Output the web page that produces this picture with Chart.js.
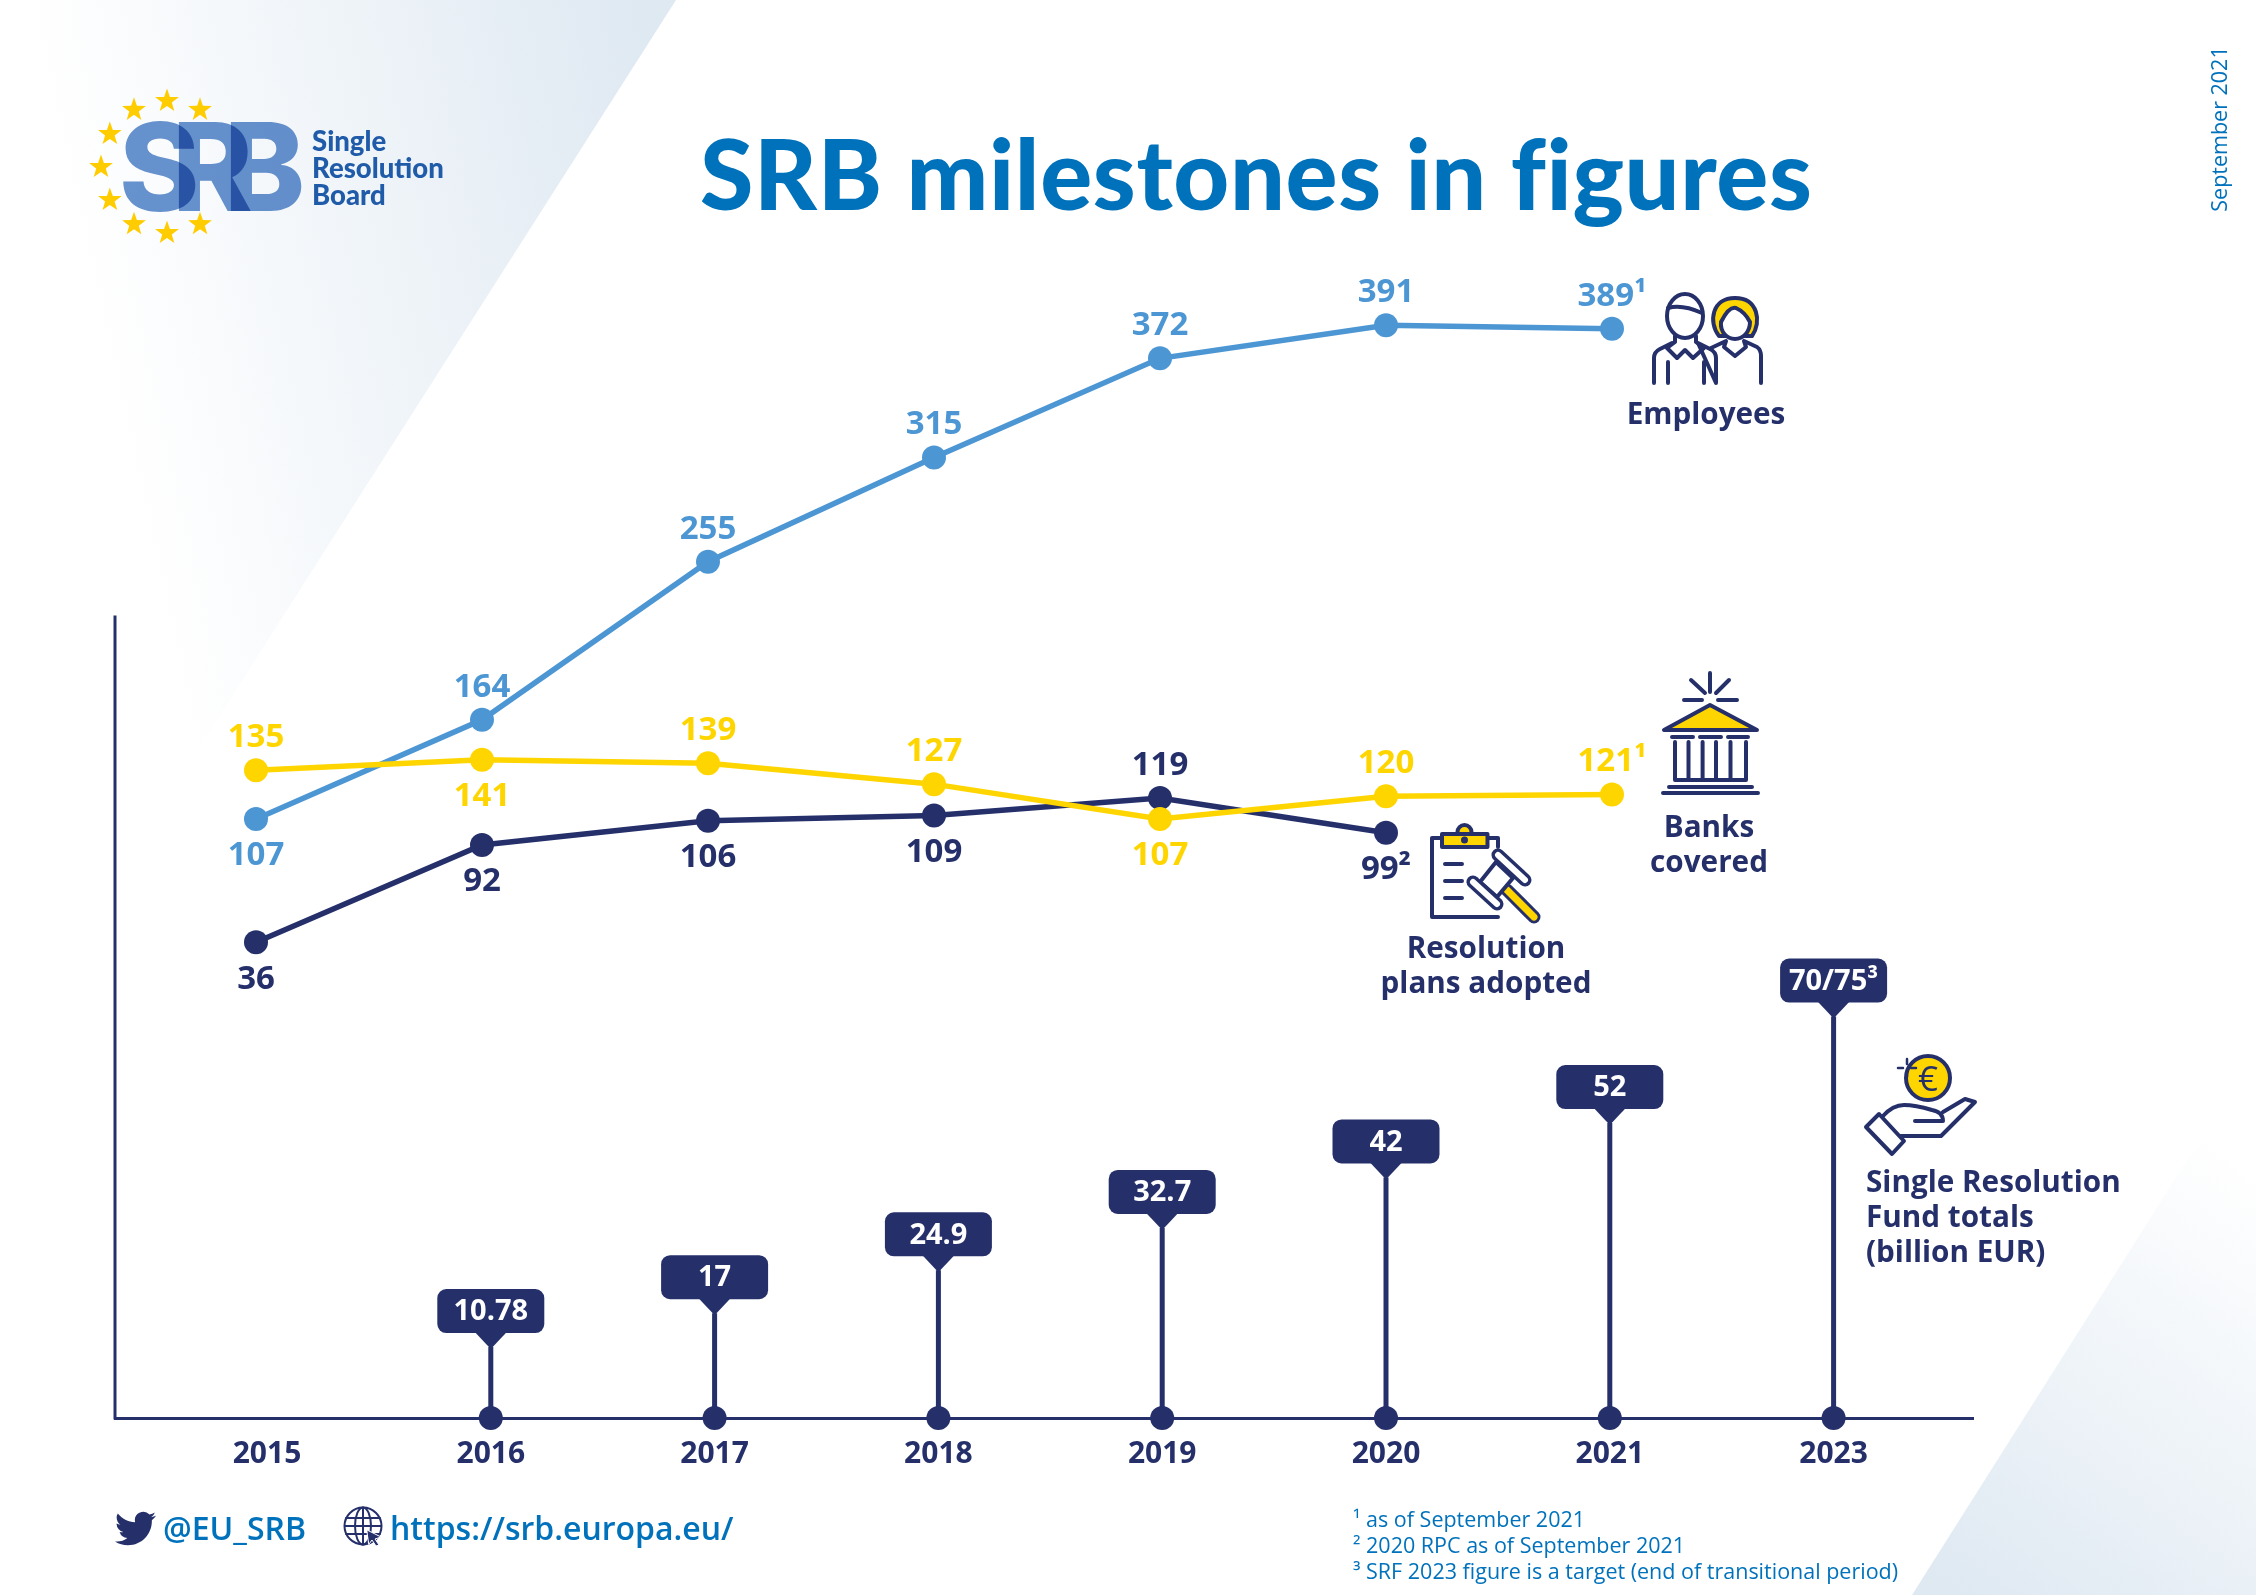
<!DOCTYPE html>
<html><head><meta charset="utf-8">
<style>
html,body{margin:0;padding:0;background:#fff;width:2256px;height:1595px;overflow:hidden}
#c{position:absolute;left:0;top:0;display:block}
.t{position:absolute;white-space:nowrap;font-family:"Open Sans",sans-serif;line-height:1}
.n{color:#25306B;font-weight:700;font-size:29.7px;line-height:35px}
.ctr{transform:translateX(-50%);text-align:center}
.f{color:#0072BC;font-size:21.5px;font-weight:400}
.l{color:#0072BC;font-size:32px;font-weight:600}
.srb{position:absolute;top:0;font-family:Inter,sans-serif;font-weight:800;font-size:122px;color:#6793CF;mix-blend-mode:multiply;line-height:1}
svg{position:absolute;left:0;top:0}
</style></head><body>
<canvas id="c" width="2256" height="1595"></canvas>
<div id="logo" style="position:absolute;left:0;top:0"></div>
<svg width="2256" height="1595" viewBox="0 0 2256 1595" fill="none" stroke="#25306B" stroke-width="4" stroke-linecap="round" stroke-linejoin="round">
 <g id="stars" stroke="none" fill="#FFCC00"></g>
 <!-- employees -->
 <path d="M1654,383V358Q1654,352 1660,349L1672,343M1698,343L1710,349Q1716,352 1716,358V383ZM1668,383V362M1704,383V362"/>
 <path d="M1675,336V342L1667,348L1677,358L1685,350L1693,358L1704,348L1696,342V336"/>
 <ellipse cx="1685" cy="316" rx="18" ry="22" fill="#fff"/>
 <path d="M1668,308Q1682,304 1702,313"/>
 <path d="M1719,336C1708,322 1712,298 1735,298C1758,298 1762,322 1752,336Z" fill="#FFD500"/>
 <path d="M1721,322Q1729,306 1736,308Q1745,312 1750,322C1750,332 1743,339 1735,339C1727,339 1720,332 1721,322Z" fill="#fff"/>
 <path d="M1711,348L1726,341L1724,347L1735,356L1746,347L1744,341L1757,347Q1761,350 1761,356V383"/>
 <!-- bank -->
 <path d="M1710,673V692M1691,680L1705,693M1729,680L1716,693M1684,700H1702M1718,700H1737"/>
 <path d="M1710,705L1664,730H1757Z" fill="#FFD500"/>
 <path d="M1672,737H1693M1700,737H1721M1728,737H1748M1675,742V780H1746V742M1688.5,742V780M1702.6,742V780M1716,742V780M1730.5,742V780M1669,787H1752M1663,793H1758"/>
 <!-- clipboard and gavel -->
 <path d="M1442,838H1432V917H1498M1488,838H1498V847M1445,864H1462M1445,881H1462M1445,898H1462"/>
 <circle cx="1464.5" cy="832" r="7" fill="#FFD500"/>
 <rect x="1442" y="834" width="45.5" height="13" fill="#FFD500"/>
 <circle cx="1464.5" cy="840" r="1.5" fill="#25306B"/>
 <path d="M1507,890L1534,917" stroke-width="13"/>
 <path d="M1507,890L1534,917" stroke="#FFD500" stroke-width="7"/>
 <path d="M1496,862L1480,882L1497,897L1513,878Z" fill="#fff"/>
 <path d="M1498,855L1525,880" stroke-width="13"/>
 <path d="M1498,855L1525,880" stroke="#fff" stroke-width="6"/>
 <path d="M1473,882L1497,904" stroke-width="13"/>
 <path d="M1473,882L1497,904" stroke="#fff" stroke-width="6"/>
 <!-- hand and coin -->
 <circle cx="1928" cy="1078" r="22" fill="#FFD500"/>
 <path d="M1907,1059V1064M1907,1072V1077M1898,1068H1903M1911,1068H1916" stroke-width="2.5"/>
 <path d="M1866,1127L1879,1114L1904,1141L1892,1154Z"/>
 <path d="M1883,1116Q1893,1105 1904,1105Q1915,1105 1932,1110Q1943,1112 1943,1121H1915M1943,1112L1965,1099L1975,1102L1941,1136H1901"/>
 <!-- twitter -->
 <path transform="translate(115,1508) scale(1.71)" fill="#25306B" stroke="none" d="M23.953 4.57a10 10 0 01-2.825.775 4.958 4.958 0 002.163-2.723c-.951.555-2.005.959-3.127 1.184a4.92 4.92 0 00-8.384 4.482C7.69 8.095 4.067 6.13 1.64 3.162a4.822 4.822 0 00-.666 2.475c0 1.71.87 3.213 2.188 4.096a4.904 4.904 0 01-2.228-.616v.06a4.923 4.923 0 003.946 4.827 4.996 4.996 0 01-2.212.085 4.936 4.936 0 004.604 3.417 9.867 9.867 0 01-6.102 2.105c-.39 0-.779-.023-1.17-.067a13.995 13.995 0 007.557 2.209c9.053 0 13.998-7.496 13.998-13.985 0-.21 0-.42-.015-.63A9.935 9.935 0 0024 4.59z"/>
 <!-- globe -->
 <g stroke-width="2"><circle cx="363" cy="1526" r="18.5"/><ellipse cx="363" cy="1526" rx="8" ry="18.5"/><path d="M363,1507.5V1544.5M346,1518H380M345,1526H381M346,1534H380"/></g>
 <path d="M367,1530L381,1537L375,1539L379,1545L376,1546L372,1540L369,1544Z" fill="#25306B" stroke="#fff" stroke-width="1"/>
</svg>
<div class="t" style="left:700px;top:124px;font-family:Lato,sans-serif;font-weight:900;font-size:97px;letter-spacing:.66px;color:#0072BC" id="title">SRB milestones in figures</div>
<div class="t f" style="left:2219px;top:129px;transform:translate(-50%,-50%) rotate(-90deg);font-size:21.5px">September 2021</div>
<div class="t" style="left:312px;top:127px;font-family:Lato,sans-serif;font-weight:900;font-size:27.5px;line-height:27px;color:#1F5BA8">Single<br>Resolution<br>Board</div>
<div class="t n ctr" style="left:1706px;top:395px">Employees</div>
<div class="t n ctr" style="left:1709px;top:808px">Banks<br>covered</div>
<div class="t n ctr" style="left:1486px;top:929px">Resolution<br>plans adopted</div>
<div class="t n" style="left:1866px;top:1163px">Single Resolution<br>Fund totals<br>(billion EUR)</div>
<div class="t" style="left:1928px;top:1060px;transform:translateX(-50%);color:#25306B;font-size:35px;font-weight:400">€</div>
<div class="t l" style="left:163px;top:1512px">@EU_SRB</div>
<div class="t l" style="left:390px;top:1512px">https://srb.europa.eu/</div>
<div class="t f" style="left:1353px;top:1506px;line-height:26px">¹ as of September 2021<br>² 2020 RPC as of September 2021<br>³ SRF 2023 figure is a target (end of transitional period)</div>
<script src="https://cdn.jsdelivr.net/npm/chart.js@4"></script>
<script>
const categories = ['2015','2016','2017','2018','2019','2020','2021','2023'];
const employees = [107,164,255,315,372,391,389];
const employeesLabels = ['107','164','255','315','372','391','389¹'];
const employeesSide = [1,-1,-1,-1,-1,-1,-1];
const banks = [135,141,139,127,107,120,121];
const banksLabels = ['135','141','139','127','107','120','121¹'];
const banksSide = [-1,1,-1,-1,1,-1,-1];
const plans = [36,92,106,109,119,99];
const plansLabels = ['36','92','106','109','119','99²'];
const plansSide = [1,1,1,1,-1,1];
const fundTotals = [null,10.78,17,24.9,32.7,42,52,71.6];
const fundLabels = ['','10.78','17','24.9','32.7','42','52','70/75³'];
const NAVY='#25306B', BLUE='#4D96D4', YELLOW='#FFD500';

const chartTop=200, chartBottom=1418, chartLeft=115, chartRight=1973;
const yMin=-237.7, yPerPx=1/1.738, y2Min=-2.28, y2PerPx=1/5.434;
const yAxisTop=224;

// stars & logo letters
(function(){
  let s='';
  for(let i=0;i<12;i++){
    if(i>=2&&i<=4)continue;
    const a=i*Math.PI/6, cx=167+66*Math.sin(a), cy=167-66*Math.cos(a);
    let p=[];
    for(let k=0;k<10;k++){const r=k%2?5:12.5,b=k*Math.PI/5;p.push((cx+r*Math.sin(b)).toFixed(1)+','+(cy-r*Math.cos(b)).toFixed(1));}
    s+='<polygon points="'+p.join(' ')+'"/>';
  }
  document.getElementById('stars').innerHTML=s;
  const L=document.getElementById('logo');
  [['S',119],['R',172],['B',224]].forEach(([c,x])=>{
    const d=document.createElement('div');d.className='srb';d.textContent=c;d.style.left=x+'px';d.style.top='106px';L.appendChild(d);
  });
})();

const decor={id:'decor',
  beforeDraw(ch){
    const c=ch.ctx;c.save();
    let g=c.createLinearGradient(90,300,676,170);
    g.addColorStop(0,'rgba(223,233,242,0)');g.addColorStop(1,'#DFE9F2');
    c.fillStyle=g;c.beginPath();c.moveTo(0,0);c.lineTo(676,0);c.lineTo(0,1060);c.closePath();c.fill();
    g=c.createLinearGradient(2256,1170,1960,1595);
    g.addColorStop(0,'rgba(223,233,242,0)');g.addColorStop(1,'#DFE9F2');
    c.fillStyle=g;c.beginPath();c.moveTo(2256,1051);c.lineTo(2256,1595);c.lineTo(1912,1595);c.closePath();c.fill();
    c.restore();
  },
  afterDatasetsDraw(ch){
    const c=ch.ctx,{x,x2,y,y2}=ch.scales;
    c.save();
    // y axis line, stops at yAxisTop
    c.strokeStyle=NAVY;c.lineWidth=3;c.beginPath();
    c.moveTo(x.left,y.getPixelForValue(yAxisTop));c.lineTo(x.left,y.bottom+1.5);c.stroke();
    // value labels
    c.textAlign='center';c.textBaseline='middle';c.font='700 33px "Open Sans"';
    const put=(vals,labs,side,col)=>{c.fillStyle=col;vals.forEach((v,i)=>{
      c.fillText(labs[i],x2.getPixelForValue(i),y.getPixelForValue(v)+(side[i]>0?37:-32.5));});};
    put(employees,employeesLabels,employeesSide,BLUE);
    put(banks,banksLabels,banksSide,YELLOW);
    put(plans,plansLabels,plansSide,NAVY);
    // fund tags
    c.font='700 29px "Open Sans"';
    fundTotals.forEach((v,i)=>{
      if(v==null)return;
      const px=x.getPixelForValue(i),py=y2.getPixelForValue(v);
      const w=107,h=44,tip=14,top=py-tip-h;
      c.fillStyle=NAVY;c.beginPath();c.roundRect(px-w/2,top,w,h,9);c.fill();
      c.beginPath();c.moveTo(px-16,top+h-1);c.lineTo(px+16,top+h-1);c.lineTo(px,py+2);c.closePath();c.fill();
      c.fillStyle='#fff';c.fillText(fundLabels[i],px,top+h/2+1);
    });
    c.restore();
  }
};

const stemPoints=[];
fundTotals.forEach((v,i)=>{ if(v!=null) stemPoints.push({x:i,y:y2Min},{x:i,y:v},{x:i,y:null}); });

new Chart(document.getElementById('c'),{
  data:{datasets:[
    {type:'line',label:'Single Resolution Fund totals',xAxisID:'x',yAxisID:'y2',borderColor:NAVY,borderWidth:5,pointRadius:0,spanGaps:false,tension:0,clip:false,
      data:stemPoints,order:5},
    {type:'scatter',label:'fund base',xAxisID:'x',yAxisID:'y2',pointRadius:12,pointBackgroundColor:NAVY,pointBorderWidth:0,clip:false,
      data:fundTotals.map((v,i)=>v==null?null:({x:i,y:y2Min})).filter(Boolean),order:4},
    {type:'line',label:'Employees',xAxisID:'x2',yAxisID:'y',borderColor:BLUE,backgroundColor:BLUE,borderWidth:5.5,pointRadius:12,pointBorderWidth:0,tension:0,clip:false,
      data:employees.map((v,i)=>({x:i,y:v})),order:3},
    {type:'line',label:'Banks covered',xAxisID:'x2',yAxisID:'y',borderColor:YELLOW,backgroundColor:YELLOW,borderWidth:5.5,pointRadius:12,pointBorderWidth:0,tension:0,clip:false,
      data:banks.map((v,i)=>({x:i,y:v})),order:1},
    {type:'line',label:'Resolution plans adopted',xAxisID:'x2',yAxisID:'y',borderColor:NAVY,backgroundColor:NAVY,borderWidth:5.5,pointRadius:12,pointBorderWidth:0,tension:0,clip:false,
      data:plans.map((v,i)=>({x:i,y:v})),order:2}
  ]},
  options:{
    responsive:false,animation:false,devicePixelRatio:1,
    layout:{padding:{left:chartLeft,right:2256-chartRight,top:chartTop,bottom:1595-chartBottom-60}},
    plugins:{legend:{display:false},tooltip:{enabled:false},title:{display:false}},
    scales:{
      x:{type:'linear',position:'bottom',offset:false,min:(chartLeft-267)/223.8,max:(chartRight-267)/223.8,
        afterFit(s){s.height=60;},
        afterBuildTicks(s){s.ticks=categories.map((_,i)=>({value:i}));},
        grid:{display:false,drawTicks:false},
        border:{display:true,color:NAVY,width:3},
        ticks:{color:NAVY,font:{family:'"Open Sans"',size:30,weight:'700'},padding:18,maxRotation:0,autoSkip:false,callback:v=>categories[v]}},
      x2:{type:'linear',display:false,offset:false,min:(chartLeft-256)/226,max:(chartRight-256)/226},
      y:{type:'linear',display:false,min:yMin,max:yMin+(chartBottom-chartTop)*yPerPx},
      y2:{type:'linear',display:false,min:y2Min,max:y2Min+(chartBottom-chartTop)*y2PerPx}
    }
  },
  plugins:[decor]
});
</script>
</body></html>
